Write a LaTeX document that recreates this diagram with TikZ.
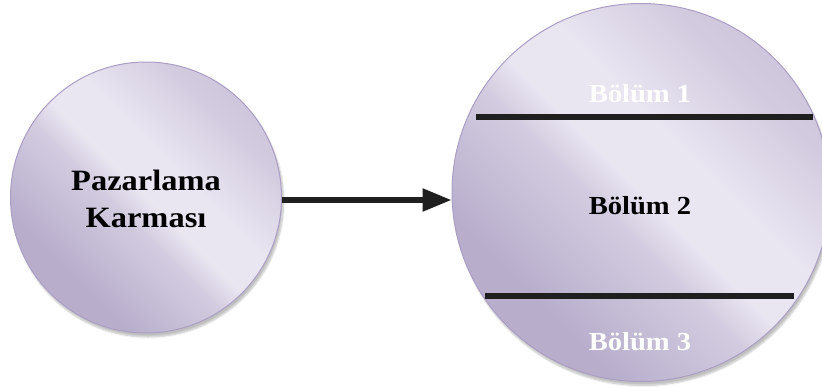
\documentclass[tikz,border=0pt]{standalone}
\usepackage{fontspec}
\setmainfont[FakeStretch=1.1]{Liberation Serif}
\usetikzlibrary{arrows.meta,shadows.blur}
\definecolor{lavD}{HTML}{B8AECC}
\definecolor{lavM}{HTML}{D3CCE0}
\definecolor{lavL}{HTML}{E9E5F1}
\definecolor{lavEdge}{HTML}{AB9EC4}
\pgfdeclarehorizontalshading{lav}{100bp}{
  color(0bp)=(lavD); color(30bp)=(lavD); color(45bp)=(lavM); color(50bp)=(lavL);
  color(58bp)=(lavL); color(70bp)=(lavM); color(100bp)=(lavD)}
\tikzset{
  ball/.style={circle, draw=lavEdge, line width=1pt, shading=lav, shading angle=45,
    blur shadow={shadow xshift=2pt, shadow yshift=-4pt, shadow blur steps=6, shadow opacity=25}},
  divider/.style={line width=5.5pt, draw=black!88},
  lbl/.style={font=\bfseries\fontsize{26}{30}\selectfont, inner sep=0pt},
  conn/.style={line width=5.5pt, draw=black!88, -{Triangle[length=29pt,width=22pt]}}
}
\begin{document}
\begin{tikzpicture}[x=1pt,y=-1pt]
\useasboundingbox (0,0) rectangle (822,388);
\node[ball, minimum size=271pt] (mix) at (146,197.5) {};
\node[lbl, align=center, font=\bfseries\fontsize{29.5}{37}\selectfont] (mixt) at (146,199) {Pazarlama\\Karması};
\node[ball, minimum size=378pt] (seg) at (641,192.5) {};
\coordinate (l1a) at (476,117); \coordinate (l1b) at (813,117);
\coordinate (l2a) at (485,296); \coordinate (l2b) at (794,296);
\draw[divider] (l1a) -- (l1b);
\draw[divider] (l2a) -- (l2b);
\node[lbl, text=white] (b1) at (640,94) {Bölüm 1};
\node[lbl] (b2) at (640,206) {Bölüm 2};
\node[lbl, text=white] (b3) at (640,342) {Bölüm 3};
\coordinate (ay) at (0,200);
\draw[conn] (mix.east |- ay) -- (seg.west |- ay);
\end{tikzpicture}
\end{document}
